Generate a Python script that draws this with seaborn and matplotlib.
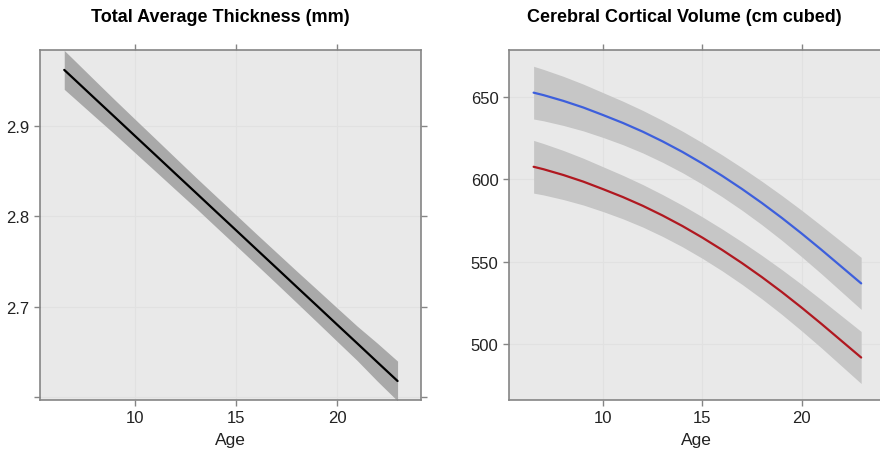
import matplotlib
matplotlib.use("Agg")
import matplotlib.pyplot as plt
import numpy as np
import pandas as pd
import seaborn as sns

# ---- data ----
ages = [6.5, 7, 8, 9, 10, 11, 12, 13, 14, 15, 16, 17, 18, 19, 20, 21, 22, 23]

thickness = [2.9620, 2.9516, 2.9307, 2.9099, 2.8890, 2.8682, 2.8473, 2.8265, 2.8056,
             2.7848, 2.7639, 2.7431, 2.7222, 2.7014, 2.6805, 2.6597, 2.6388, 2.6180]
thickness_half = [0.0215, 0.021, 0.020, 0.019, 0.0185, 0.018, 0.0175, 0.017, 0.017,
                  0.017, 0.017, 0.0172, 0.0175, 0.018, 0.0185, 0.019, 0.021, 0.022]

vol_blue = [652.6, 651.1, 647.6, 643.6, 639.0, 634.2, 628.9, 623.0, 616.6,
            609.6, 602.1, 594.1, 585.6, 576.6, 567.1, 557.2, 547.0, 536.8]
vol_red = [607.6, 606.1, 602.6, 598.6, 594.0, 589.2, 583.9, 578.0, 571.6,
           564.6, 557.1, 549.1, 540.6, 531.6, 522.1, 512.2, 502.0, 491.8]
vol_half = [16.0, 15.6, 14.9, 14.2, 13.6, 13.2, 12.9, 12.7, 12.6,
            12.6, 12.7, 12.9, 13.2, 13.6, 14.1, 14.6, 15.2, 15.8]

x_ticks = [10, 15, 20]
thick_ticks = [2.6, 2.7, 2.8, 2.9]
thick_labels = ["", "2.7", "2.8", "2.9"]
vol_ticks = [500, 550, 600, 650]
vol_labels = ["500", "550", "600", "650"]

titles = ["Total Average Thickness (mm)", "Cerebral Cortical Volume (cm cubed)"]
xlabel = "Age"

# ---- style ----
sns.set_style("ticks", {
    "axes.facecolor": "#e9e9e9",
    "axes.edgecolor": "#858585",
    "grid.color": "#e1e1e1",
    "xtick.color": "#858585",
    "ytick.color": "#858585",
})
plt.rcParams["font.family"] = ["Liberation Sans", "DejaVu Sans"]
plt.rcParams["xtick.labelcolor"] = "#222222"
plt.rcParams["ytick.labelcolor"] = "#222222"

W, H = 880, 452
fig = plt.figure(figsize=(W / 100, H / 100), dpi=100)
fig.patch.set_facecolor("white")

ax1 = fig.add_axes([40 / W, (H - 401) / H, 381 / W, 350 / H])
ax2 = fig.add_axes([509 / W, (H - 401) / H, 374 / W, 350 / H])

df_t = pd.DataFrame({"Age": ages, "val": thickness})
lo_t = np.array(thickness) - np.array(thickness_half)
hi_t = np.array(thickness) + np.array(thickness_half)
ax1.fill_between(ages, lo_t, hi_t, color="#a9a9a9", linewidth=0, zorder=2)
sns.lineplot(data=df_t, x="Age", y="val", ax=ax1, color="black", linewidth=1.6, zorder=3)

df_v = pd.DataFrame({
    "Age": ages * 2,
    "val": vol_blue + vol_red,
    "grp": ["blue"] * len(ages) + ["red"] * len(ages),
})
for series in (vol_blue, vol_red):
    ax2.fill_between(ages, np.array(series) - np.array(vol_half),
                     np.array(series) + np.array(vol_half),
                     color="#c6c6c6", linewidth=0, zorder=2)
sns.lineplot(data=df_v, x="Age", y="val", hue="grp", ax=ax2,
             palette={"blue": "#3d5fdc", "red": "#b01820"},
             linewidth=1.6, legend=False, zorder=3)

ax1.set_xlim(5.30, 24.16)
ax1.set_ylim(2.597, 2.984)
ax1.set_yticks(thick_ticks)
ax1.set_yticklabels(thick_labels)

ax2.set_xlim(5.26, 24.10)
ax2.set_ylim(466, 678.5)
ax2.set_yticks(vol_ticks)
ax2.set_yticklabels(vol_labels)

for ax in (ax1, ax2):
    ax.set_xticks(x_ticks)
    ax.set_xticklabels([str(t) for t in x_ticks])
    ax.grid(True, color="#e1e1e1", linewidth=0.8, zorder=0)
    ax.set_axisbelow(True)
    ax.tick_params(axis="both", which="both", direction="out", length=4.5, width=1.0,
                   top=True, right=True, labeltop=False, labelright=False,
                   labelsize=12, pad=3)
    for s in ax.spines.values():
        s.set_visible(True)
        s.set_linewidth(1.2)
        s.set_color("#858585")
    ax.set_xlabel(xlabel, fontsize=12.5, color="#222222", labelpad=4.5)
    ax.set_ylabel("")

fig.text(220 / W, 1 - 18 / H, titles[0], ha="center", va="center",
         fontsize=13, fontweight="bold", color="black")
fig.text(684.5 / W, 1 - 18 / H, titles[1], ha="center", va="center",
         fontsize=13, fontweight="bold", color="black")

fig.savefig("out.png", dpi=100)
